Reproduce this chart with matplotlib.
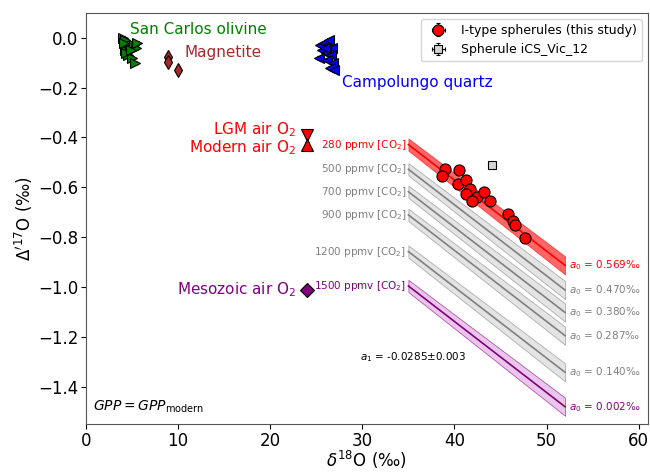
import numpy as np
from matplotlib import pyplot as plt

# Standards
olivine_x = [4.0, 4.2, 4.5, 4.3, 4.8, 5.2, 5.5, 4.6, 5.0, 5.3, 4.4, 5.6, 4.9, 4.1]
olivine_y = [0.0, -0.01, -0.03, -0.05, -0.04, -0.03, -0.04, -0.07, -0.08, -0.10, -0.06, -0.02, -0.05, -0.02]
magnetite_x = [8.9, 8.9, 10.0]
magnetite_y = [-0.076, -0.096, -0.129]
quartz_x = [25.4, 25.8, 26.3, 26.7, 25.6, 26.1, 26.6, 25.3, 26.2, 26.8, 26.5, 26.9, 25.9, 26.4]
quartz_y = [-0.03, -0.02, -0.03, -0.04, -0.05, -0.06, -0.07, -0.08, -0.09, -0.10, -0.12, -0.13, -0.04, -0.01]

# Air O2
lgm_x, lgm_y = 24.0, -0.39
modern_x, modern_y = 24.0, -0.43
mesozoic_x, mesozoic_y = 24.0, -1.01

# Spherules
sph_x = [39.0, 38.6, 40.5, 40.4, 41.3, 41.7, 41.3, 42.4, 41.9, 43.2, 43.8, 45.8, 46.3, 46.6, 47.7]
sph_y = [-0.526, -0.556, -0.532, -0.587, -0.572, -0.607, -0.625, -0.639, -0.656, -0.62, -0.656,
         -0.707, -0.736, -0.752, -0.805]
vic_x, vic_y = 44.1, -0.512

# Model lines
a1 = -0.0285
a0_values = [0.569, 0.470, 0.380, 0.287, 0.140, 0.002]
co2_labels = ["280", "500", "700", "900", "1200", "1500"]
line_colors = ["red", "gray", "gray", "gray", "gray", "purple"]
band_colors = ["red", "lightgray", "lightgray", "lightgray", "lightgray", "plum"]

fig = plt.figure(figsize=(6.5, 4.74), dpi=100)
ax = fig.add_axes([0.132, 0.105, 0.865, 0.868])

eb = dict(ecolor="black", elinewidth=0.8, capsize=1.5, linestyle="none", markeredgecolor="black",
          markeredgewidth=0.8)

ax.errorbar(olivine_x, olivine_y, xerr=0.08, yerr=0.008, fmt=">", color="green", markersize=7, **eb)
ax.errorbar(magnetite_x, magnetite_y, xerr=0.1, yerr=0.01, fmt="d", color="brown", markersize=7, **eb)
ax.errorbar(quartz_x, quartz_y, xerr=0.08, yerr=0.008, fmt="<", color="blue", markersize=7, **eb)

ax.errorbar(lgm_x, lgm_y, yerr=0.01, fmt="v", color="red", markersize=8, **eb)
ax.errorbar(modern_x, modern_y, yerr=0.01, fmt="^", color="red", markersize=8, **eb)
ax.errorbar(mesozoic_x, mesozoic_y, fmt="D", color="purple", markersize=7, **eb)

x = np.linspace(35, 52, 50)
for a0, co2, lc, bc in zip(a0_values, co2_labels, line_colors, band_colors):
    y = a0 + a1 * x
    hw = 0.0007 * x
    ax.fill_between(x, y - hw, y + hw, color=bc, alpha=0.6, edgecolor=lc, linewidth=0.6)
    ax.plot(x, y, color=lc, linewidth=1.2)
    ax.text(34.8, y[0], "%s ppmv [CO$_2$]" % co2, color=lc, fontsize=7.5, ha="right", va="center")
    ax.text(52.4, y[-1], "$a_0$ = %.3f‰" % a0, color=lc, fontsize=7.5, ha="left", va="center")

ax.errorbar(sph_x, sph_y, xerr=0.25, yerr=0.012, fmt="o", color="red", markersize=8,
            label="I-type spherules (this study)", **eb)
ax.errorbar(vic_x, vic_y, xerr=0.15, yerr=0.01, fmt="s", color="lightgray", markersize=6,
            label="Spherule iCS_Vic_12", **eb)

ax.text(4.8, 0.035, "San Carlos olivine", color="green", fontsize=11, va="center")
ax.text(10.7, -0.06, "Magnetite", color="brown", fontsize=11, va="center")
ax.text(27.8, -0.178, "Campolungo quartz", color="blue", fontsize=11, va="center")
ax.text(22.8, -0.37, "LGM air O$_2$", color="red", fontsize=11, ha="right", va="center")
ax.text(22.8, -0.44, "Modern air O$_2$", color="red", fontsize=11, ha="right", va="center")
ax.text(22.8, -1.01, "Mesozoic air O$_2$", color="purple", fontsize=11, ha="right", va="center")
ax.text(29.8, -1.28, "$a_1$ = -0.0285±0.003", color="black", fontsize=7.5, va="center")
ax.text(0.8, -1.48, r"$GPP = GPP_{\rm modern}$", color="black", fontsize=10, va="center")

ax.set_xlim(0, 61)
ax.set_ylim(-1.55, 0.1)
ax.set_xticks([0, 10, 20, 30, 40, 50, 60])
ax.set_yticks([0.0, -0.2, -0.4, -0.6, -0.8, -1.0, -1.2, -1.4])
ax.tick_params(labelsize=12, pad=2)
ax.set_xlabel(r"$\delta^{18}$O (‰)", fontsize=12, labelpad=-1)
ax.set_ylabel(r"$\Delta'^{17}$O (‰)", fontsize=12, labelpad=2)
for s in ax.spines.values():
    s.set_color("#555555")

ax.legend(loc="upper right", fontsize=9, handletextpad=0.8)

fig.savefig("out.png", dpi=100)
